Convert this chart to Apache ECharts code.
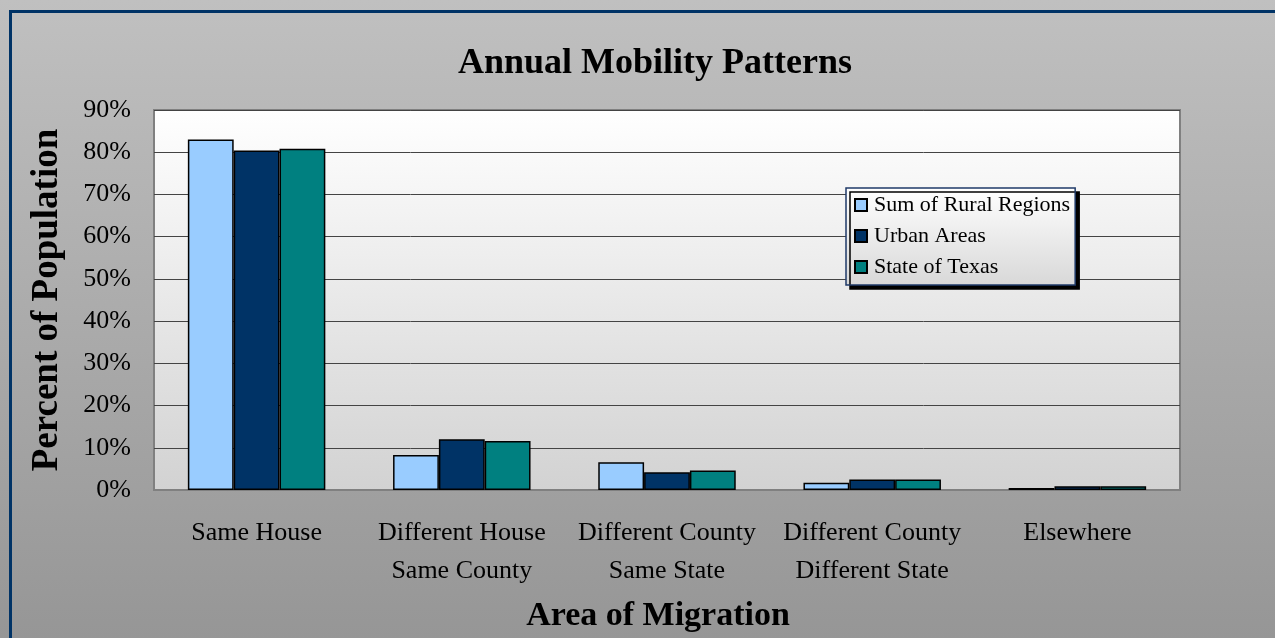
<!DOCTYPE html>
<html>
<head>
<meta charset="utf-8">
<script src="https://cdn.jsdelivr.net/npm/echarts@6/dist/echarts.min.js"></script>
<style>
  html, body { margin: 0; padding: 0; }
  #chart { width: 1275px; height: 638px; }
</style>
</head>
<body>
<div id="chart"></div>
<script>
// Categories of migration and share of population (%) per region group
const categories = [
  'Same House',
  'Different House\nSame County',
  'Different County\nSame State',
  'Different County\nDifferent State',
  'Elsewhere'
];
const ruralRegions = [83.0, 8.3, 6.6, 1.7, 0.5];
const urbanAreas   = [80.4, 12.0, 4.2, 2.5, 0.9];
const stateOfTexas = [80.8, 11.6, 4.6, 2.5, 0.9];
const seriesNames = ['Sum of Rural Regions', 'Urban Areas', 'State of Texas'];
const seriesColors = ['#99ccff', '#003366', '#008080'];

const serif = '"Liberation Serif", "Times New Roman", serif';
const chart = echarts.init(document.getElementById('chart'));

const makeSeries = (name, data, color) => ({
  name,
  type: 'bar',
  data,
  barGap: '0%',
  barCategoryGap: '33%',
  itemStyle: { color, borderColor: '#000', borderWidth: 1.5 }
});

chart.setOption({
  animation: false,
  backgroundColor: {
    type: 'linear', x: 0, y: 0, x2: 0, y2: 1,
    colorStops: [{ offset: 0, color: '#c0c0c0' }, { offset: 1, color: '#969696' }]
  },
  graphic: [{
    type: 'rect',
    shape: { x: 10.5, y: 11.5, width: 1280, height: 640 },
    style: { fill: 'none', stroke: '#003366', lineWidth: 3 },
    z: 100
  }],
  title: [{
    text: 'Annual Mobility Patterns',
    left: 650, top: 41, textAlign: 'center',
    textStyle: { fontFamily: serif, fontSize: 36, fontWeight: 'bold', color: '#000' }
  }, {
    text: 'Area of Migration',
    left: 653, top: 594, textAlign: 'center',
    textStyle: { fontFamily: serif, fontSize: 34, fontWeight: 'bold', color: '#000' }
  }],
  legend: {
    orient: 'vertical',
    left: 846, top: 188,
    data: seriesNames,
    itemWidth: 12, itemHeight: 12, itemGap: 9,
    padding: [6, 5, 7, 8],
    icon: 'rect',
    backgroundColor: {
      type: 'linear', x: 0, y: 0, x2: 0, y2: 1,
      colorStops: [{ offset: 0, color: '#ffffff' }, { offset: 1, color: '#d8d8d8' }]
    },
    borderColor: '#1f3a68', borderWidth: 1.5, borderRadius: 0,
    shadowColor: '#000', shadowBlur: 0, shadowOffsetX: 4, shadowOffsetY: 4,
    textStyle: { fontFamily: serif, fontSize: 22, color: '#000', padding: [0, 0, 0, 2] }
  },
  grid: {
    left: 154, right: 95, top: 110, bottom: 148,
    show: true,
    backgroundColor: {
      type: 'linear', x: 0, y: 0, x2: 0, y2: 1,
      colorStops: [{ offset: 0, color: '#ffffff' }, { offset: 1, color: '#d2d2d2' }]
    },
    borderColor: '#808080', borderWidth: 2
  },
  xAxis: {
    type: 'category',
    data: categories,
    axisTick: { show: false },
    axisLine: { lineStyle: { color: '#808080', width: 2 } },
    axisLabel: {
      fontFamily: serif, fontSize: 26, color: '#000',
      lineHeight: 38, margin: 24, interval: 0
    }
  },
  yAxis: {
    type: 'value',
    min: 0, max: 90, interval: 10,
    name: 'Percent of Population',
    nameLocation: 'middle',
    nameGap: 88,
    nameTextStyle: { fontFamily: serif, fontSize: 37, fontWeight: 'bold', color: '#000' },
    axisLine: { show: false },
    axisTick: { show: false },
    splitLine: { lineStyle: { color: '#444', width: 1 } },
    axisLabel: {
      fontFamily: serif, fontSize: 26, color: '#000', margin: 23,
      formatter: v => v + '%'
    }
  },
  series: [
    makeSeries(seriesNames[0], ruralRegions, seriesColors[0]),
    makeSeries(seriesNames[1], urbanAreas, seriesColors[1]),
    makeSeries(seriesNames[2], stateOfTexas, seriesColors[2])
  ]
});
</script>
</body>
</html>
